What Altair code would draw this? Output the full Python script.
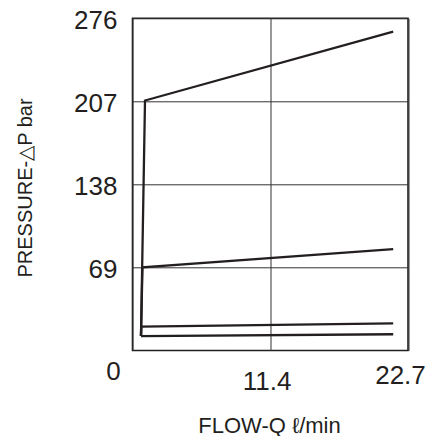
import altair as alt
import pandas as pd

# Flow (l/min) and pressure (bar) for each curve
flow_a = [0.70, 1.03, 21.48]
press_a = [12.0, 207.7, 264.9]
flow_b = [0.70, 0.82, 21.48]
press_b = [12.0, 69.1, 84.3]
flow_c = [0.70, 0.72, 21.48]
press_c = [12.0, 19.8, 22.6]
flow_d = [0.70, 21.48]
press_d = [12.0, 13.5]

x_ticks = [0, 11.4, 22.7]
y_ticks = [69, 138, 207, 276]

rows = []
for name, fl, pr in [("a", flow_a, press_a), ("b", flow_b, press_b),
                     ("c", flow_c, press_c), ("d", flow_d, press_d)]:
    for i, (f, p) in enumerate(zip(fl, pr)):
        rows.append({"series": name, "idx": i, "flow": f, "pressure": p})
df = pd.DataFrame(rows)

FONT = "Liberation Sans"

x_axis = alt.Axis(
    values=x_ticks,
    title="FLOW-Q ℓ/min",
    titleFont=FONT, titleFontSize=22, titleFontWeight="normal", titleColor="#231f20",
    titleX=136.5, titleY=81.5, titleBaseline="alphabetic", titleAlign="center",
    labelFont=FONT, labelFontSize=26, labelColor="#231f20",
    labelExpr="datum.value == 0 ? '0' : format(datum.value, '.1f')",
    labelBaseline="top", labelAlign="center",
    labelOffset={"expr": "datum.value == 0 ? -19.5 : (datum.value < 20 ? -4.2 : -8)"},
    labelPadding={"expr": "datum.value == 0 ? 8.2 : (datum.value < 20 ? 18.2 : 12.4)"},
    labelFlush=False, labelOverlap=False, labelBound=False,
    ticks=False, tickSize=0, domain=False,
    grid=True, gridColor="#333333", gridWidth=1,
)

y_axis = alt.Axis(
    values=y_ticks,
    title="PRESSURE-△P bar",
    titleFont=FONT, titleFontSize=20, titleFontWeight="normal", titleColor="#231f20",
    titleAngle=270, titleX=-101.5, titleY=169.2, titleBaseline="alphabetic", titleAlign="center",
    labelFont=FONT, labelFontSize=26, labelColor="#231f20",
    labelAlign="right", labelBaseline="middle", labelPadding=15.5, labelOffset=2.5,
    labelFlush=False, labelOverlap=False, labelBound=False,
    ticks=False, tickSize=0, domain=False,
    grid=True, gridColor="#333333", gridWidth=1,
)

chart = (
    alt.Chart(df)
    .mark_line(color="#231f20", strokeWidth=2.3)
    .encode(
        x=alt.X("flow:Q", scale=alt.Scale(domain=[0, 22.7], nice=False, zero=False), axis=x_axis),
        y=alt.Y("pressure:Q", scale=alt.Scale(domain=[0, 276], nice=False, zero=False), axis=y_axis),
        detail="series:N",
        order="idx:Q",
    )
    .properties(
        width=275.5,
        height=332.2,
        autosize=alt.AutoSizeParams(type="none"),
        padding={"left": 124.5, "top": 10.3, "right": 17, "bottom": 85.5},
        background="white",
    )
    .configure_view(stroke="#231f20", strokeWidth=1.6)
)

chart.save("out.html", embed_options={"renderer": "svg", "actions": False})
